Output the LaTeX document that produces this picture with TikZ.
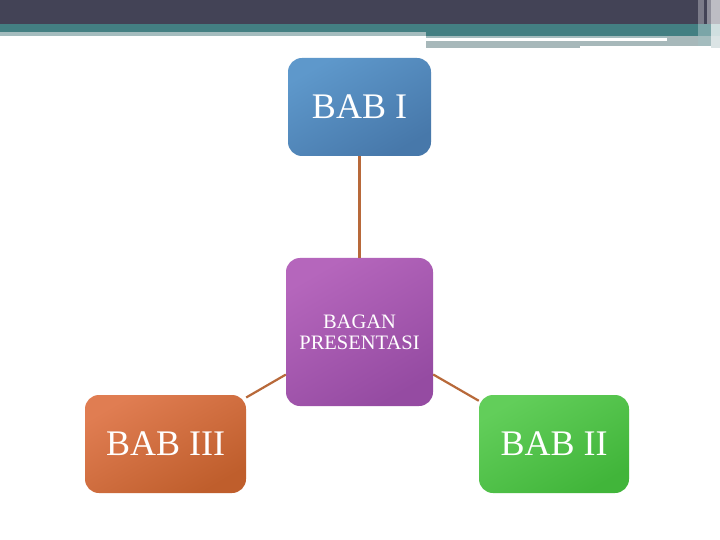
\documentclass[tikz,border=0pt]{standalone}
\usepackage{fontspec}
\setmainfont{Liberation Serif}
\definecolor{hdrdark}{HTML}{434356}
\definecolor{hdrteal}{HTML}{437F82}
\definecolor{hdrlight}{HTML}{A4BCBE}
\definecolor{hdrgray}{HTML}{A7B8BA}
\definecolor{linkc}{HTML}{B8693A}
\definecolor{blueA}{HTML}{5E98CB}
\definecolor{blueB}{HTML}{4778AA}
\definecolor{purpA}{HTML}{B566BC}
\definecolor{purpB}{HTML}{954BA2}
\definecolor{oranA}{HTML}{E07D52}
\definecolor{oranB}{HTML}{BF5E2C}
\definecolor{greenA}{HTML}{62CE5A}
\definecolor{greenB}{HTML}{41B53A}
\tikzset{
  box/.style={rounded corners=14bp, inner sep=0pt, text=white, align=center,
    draw=none},
  link/.style={draw=linkc, line width=2.2bp},
}
\begin{document}
\begin{tikzpicture}[x=1bp,y=-1bp]
\useasboundingbox (0,0) rectangle (720,540);
\fill[white] (0,0) rectangle (720,540);
% header
\fill[hdrdark] (0,0) rectangle (720,24);
\fill[hdrteal] (0,24) rectangle (720,32);
\fill[hdrlight] (0,32) rectangle (426,36);
\fill[hdrteal] (426,32) rectangle (698,36);
\fill[hdrlight] (426,36) rectangle (698,38);
\fill[hdrgray] (426,41) rectangle (580,48);
\fill[hdrgray] (580,41) rectangle (698,46);
\fill[hdrgray] (667,36) rectangle (698,46);
\fill[white] (426,38) rectangle (667,41);
% right-end stripes
\fill[hdrdark!70!white] (698,0) rectangle (704,24);
\fill[hdrdark] (704,0) rectangle (707,24);
\fill[hdrdark!60!white] (707,0) rectangle (711,24);
\fill[hdrdark!35!white] (711,0) rectangle (720,24);
\fill[hdrteal!70!white] (698,24) rectangle (711,36);
\fill[hdrteal!25!white] (711,24) rectangle (720,36);
\fill[hdrlight] (698,36) rectangle (711,46);
\fill[hdrlight!40!white] (711,36) rectangle (720,48);
% nodes
\node[box, minimum width=143bp, minimum height=98bp,
  top color=blueA, bottom color=blueB, shading angle=30,
  font=\fontsize{36bp}{40bp}\selectfont] (b1) at (359.5,107) {BAB I};
\node[box, minimum width=147bp, minimum height=148bp,
  top color=purpA, bottom color=purpB, shading angle=30,
  font=\fontsize{20.5bp}{21bp}\selectfont] (c) at (359.5,332) {BAGAN\\PRESENTASI};
\node[box, minimum width=161bp, minimum height=98bp,
  top color=oranA, bottom color=oranB, shading angle=30,
  font=\fontsize{36bp}{40bp}\selectfont] (b3) at (165.5,444) {BAB III};
\node[box, minimum width=150bp, minimum height=98bp,
  top color=greenA, bottom color=greenB, shading angle=30,
  font=\fontsize{36bp}{40bp}\selectfont] (b2) at (554,444) {BAB II};
% connectors
\draw[link] (b1) -- (c);
\draw[link] (c) -- (b3);
\draw[link] (c) -- (b2);
\end{tikzpicture}
\end{document}
